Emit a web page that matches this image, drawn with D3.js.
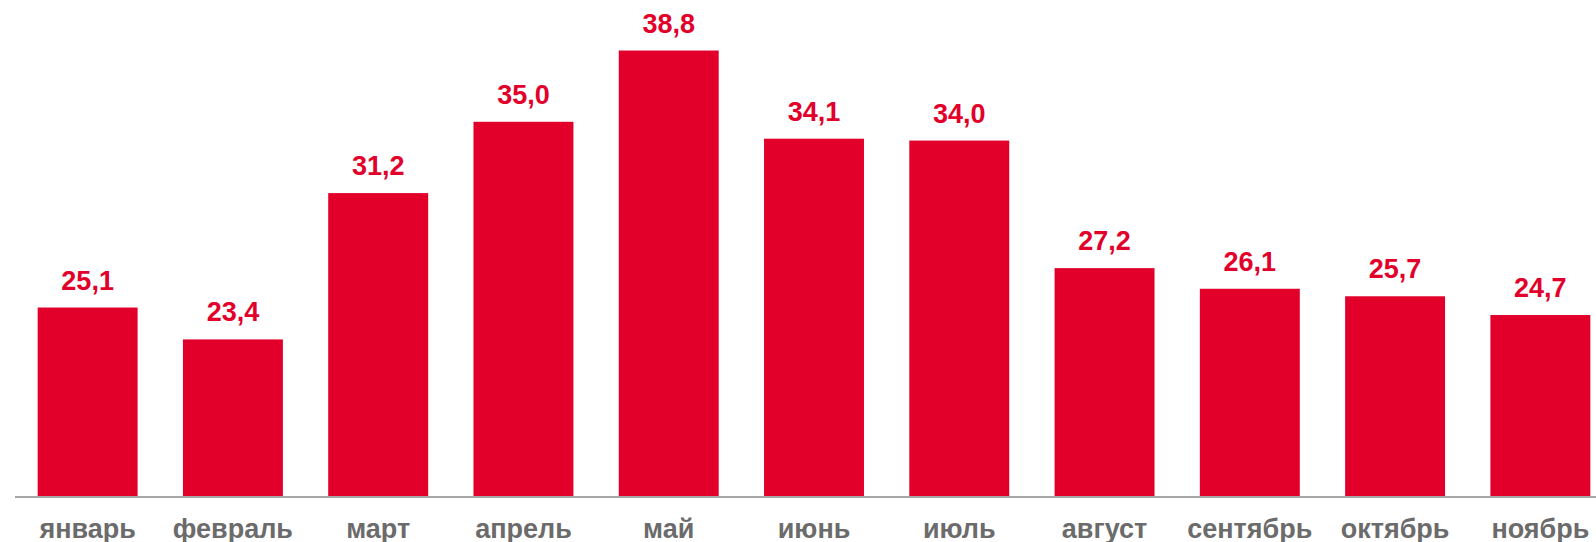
<!DOCTYPE html>
<html>
<head>
<meta charset="utf-8">
<script src="https://cdn.jsdelivr.net/npm/d3@7"></script>
<style>
  html, body { margin: 0; padding: 0; background: #fff; overflow: hidden; }
  svg { display: block; }
  text { font-family: "Liberation Sans", Arial, sans-serif; font-weight: bold; }
</style>
</head>
<body>
<svg id="chart"></svg>
<script>
// Monthly values
var months = ["январь", "февраль", "март", "апрель", "май", "июнь", "июль", "август", "сентябрь", "октябрь", "ноябрь"];
var values = [25.1, 23.4, 31.2, 35.0, 38.8, 34.1, 34.0, 27.2, 26.1, 25.7, 24.7];

var width = 1596;
var height = 542;
var baseY = 497;

var svg = d3.select("#chart")
            .attr("width", width)
            .attr("height", height);

var x = d3.scaleBand()
          .domain(months)
          .range([15, 1613])
          .paddingInner(0.312)
          .paddingOuter(0.156);

// value axis does not start at zero
var y = d3.scaleLinear()
          .domain([15, 40])
          .range([baseY, 28]);

var fmt = function(d) { return d.toFixed(1).replace(".", ","); };

svg.selectAll(".bar")
   .data(values)
   .enter().append("rect")
   .attr("class", "bar")
   .attr("x", (d, i) => x(months[i]))
   .attr("y", d => y(d))
   .attr("width", x.bandwidth())
   .attr("height", d => baseY - y(d))
   .attr("fill", "#e2002b");

svg.selectAll(".value")
   .data(values)
   .enter().append("text")
   .attr("class", "value")
   .attr("x", (d, i) => x(months[i]) + x.bandwidth() / 2)
   .attr("y", d => y(d) - 18)
   .attr("text-anchor", "middle")
   .attr("font-size", 27)
   .attr("fill", "#e2002b")
   .text(fmt);

// baseline
svg.append("line")
   .attr("x1", 15)
   .attr("x2", width)
   .attr("y1", baseY)
   .attr("y2", baseY)
   .attr("stroke", "#a6a6a6")
   .attr("stroke-width", 2);

svg.selectAll(".month")
   .data(months)
   .enter().append("text")
   .attr("class", "month")
   .attr("x", d => x(d) + x.bandwidth() / 2)
   .attr("y", 538)
   .attr("text-anchor", "middle")
   .attr("font-size", 27)
   .attr("fill", "#6b6b6b")
   .text(d => d);
</script>
</body>
</html>
